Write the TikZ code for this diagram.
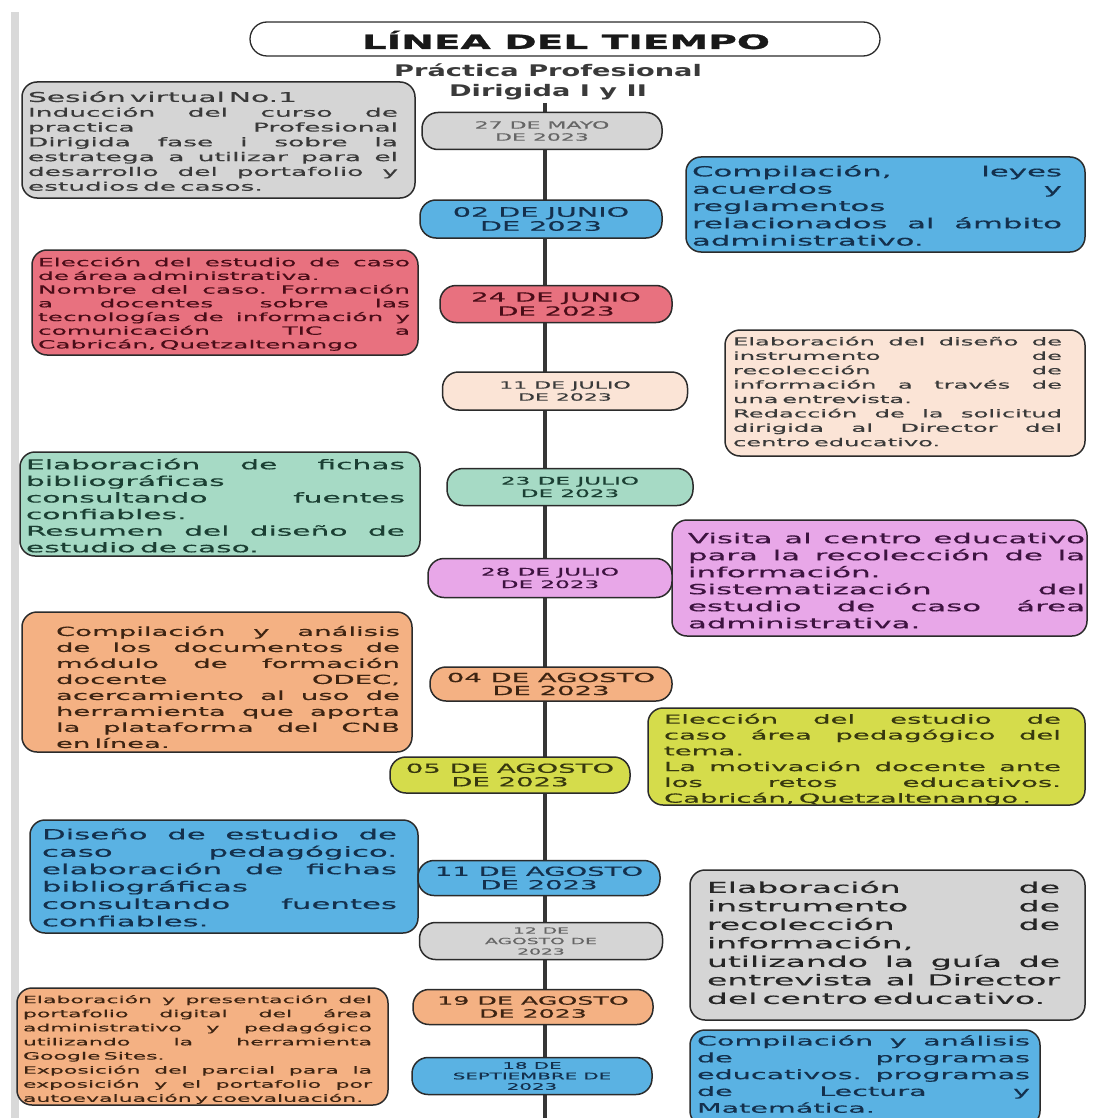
\documentclass[tikz,border=0pt]{standalone}
\usepackage{fontspec}
\newfontfamily\bodyf[FakeStretch=2.2,FakeBold=0.4]{DejaVu Sans}
\newfontfamily\titlef[FakeStretch=2.0,FakeBold=1.5]{DejaVu Sans}
\newfontfamily\subf[FakeStretch=1.7]{DejaVu Sans}
\definecolor{bord}{HTML}{2B2B2B}
\definecolor{tlc}{HTML}{363636}
\definecolor{stripc}{HTML}{D9D9D9}
\definecolor{cgray}{HTML}{D5D5D5}
\definecolor{cblue}{HTML}{5AB2E3}
\definecolor{cpink}{HTML}{E8717F}
\definecolor{cpeach}{HTML}{FBE4D6}
\definecolor{cmint}{HTML}{A6DAC5}
\definecolor{cviol}{HTML}{E8A7E8}
\definecolor{corange}{HTML}{F4B183}
\definecolor{cyell}{HTML}{D5DC4B}
\definecolor{tgray}{HTML}{3A3A3A}
\definecolor{tblue}{HTML}{14304D}
\definecolor{tpink}{HTML}{4A0D18}
\definecolor{tmint}{HTML}{1B3F33}
\definecolor{tviol}{HTML}{3D1340}
\definecolor{torange}{HTML}{3D2412}
\definecolor{tyell}{HTML}{37380F}
\newcommand\jl[1]{\hbox to\hsize{\frenchspacing\spaceskip=.28em plus 1fill minus .1em\relax #1}}
\newcommand\el[1]{\hbox to\hsize{\frenchspacing #1\hfil}}
\tikzset{
  tbox/.style={draw=bord, line width=1.5pt, rounded corners=15pt},
  ttext/.style={inner sep=0pt, align=left},
  dov/.style={draw=bord, line width=1.5pt, rounded corners=16pt, align=center, inner sep=0pt},
}
\begin{document}
\begin{tikzpicture}[x=1pt,y=-1pt]
\useasboundingbox (0,0) rectangle (1103,1118);
\fill[stripc] (11,12) rectangle (19,1118);
% timeline
\coordinate (tltop) at (545,103);
\coordinate (tlbot) at (545,1118);
\draw[line width=3.5pt, tlc] (tltop) -- (tlbot);
% title
\node[draw=bord, line width=1.3pt, rounded corners=17pt, fill=white, minimum width=630pt, minimum height=34pt] (title) at (565,39) {};
\node[inner sep=0pt, text=black!90, font=\titlef\bfseries\fontsize{19.5}{22}\selectfont] (titlet) at (566,40) {LÍNEA DEL TIEMPO};
\node[inner sep=0pt, text=tgray, font=\subf\bfseries\fontsize{16}{19}\selectfont] (sub1) at (548,70) {Práctica Profesional};
\node[inner sep=0pt, text=tgray, font=\subf\bfseries\fontsize{16}{19}\selectfont] (sub2) at (548,92) {Dirigida I y II};

% ---- left / right boxes ----
\node[tbox, fill=cgray, minimum width=393pt, minimum height=116pt] (L1) at (218.5,140) {};
\node[ttext, text width=370pt, text=tgray, font=\bodyf\fontsize{12}{14.8}\selectfont] (L1t) at (213,141) {%
\el{\fontsize{13.5}{16}\selectfont Sesión virtual No.1}
\jl{Inducción del curso de}
\jl{practica Profesional}
\jl{Dirigida fase i sobre la}
\jl{estratega a utilizar para el}
\jl{desarrollo del portafolio y}
\el{estudios de casos.}};

\node[tbox, fill=cblue, minimum width=399pt, minimum height=95pt] (R1) at (885.5,204.5) {};
\node[ttext, text width=370pt, text=tblue, font=\bodyf\fontsize{14}{17.3}\selectfont] (R1t) at (877,205.5) {%
\jl{Compilación, leyes}
\jl{acuerdos y}
\el{reglamentos}
\jl{relacionados al ámbito}
\el{administrativo.}};

\node[tbox, fill=cpink, minimum width=386pt, minimum height=105pt] (L2) at (225,302.5) {};
\node[ttext, text width=372pt, text=tpink, font=\bodyf\fontsize{11.3}{13.7}\selectfont] (L2t) at (224,304) {%
\jl{Elección del estudio de caso}
\el{de área administrativa.}
\jl{Nombre del caso. Formación}
\jl{a docentes sobre las}
\jl{tecnologías de información y}
\jl{comunicación TIC a}
\el{Cabricán, Quetzaltenango}};

\node[tbox, fill=cpeach, minimum width=360pt, minimum height=126pt] (R2) at (905,393) {};
\node[ttext, text width=329pt, text=tgray, font=\bodyf\fontsize{11}{14.4}\selectfont] (R2t) at (897.5,391.5) {%
\jl{Elaboración del diseño de}
\jl{instrumento de}
\jl{recolección de}
\jl{información a través de}
\el{una entrevista.}
\jl{Redacción de la solicitud}
\jl{dirigida al Director del}
\el{centro educativo.}};

\node[tbox, fill=cmint, minimum width=400pt, minimum height=104pt] (L3) at (220,504) {};
\node[ttext, text width=379pt, text=tmint, font=\bodyf\fontsize{13.5}{16.6}\selectfont] (L3t) at (215.5,505.5) {%
\jl{Elaboración de fichas}
\el{bibliográficas}
\jl{consultando fuentes}
\el{confiables.}
\jl{Resumen del diseño de}
\el{estudio de caso.}};

\node[tbox, fill=cviol, minimum width=415pt, minimum height=116pt] (R3) at (879.5,578) {};
\node[ttext, text width=397pt, text=tviol, font=\bodyf\fontsize{14}{17}\selectfont] (R3t) at (886.5,580.5) {%
\jl{Visita al centro educativo}
\jl{para la recolección de la}
\el{información.}
\jl{Sistematización del}
\jl{estudio de caso área}
\el{administrativa.}};

\node[tbox, fill=corange, minimum width=390pt, minimum height=140pt] (L4) at (217,682) {};
\node[ttext, text width=344pt, text=torange, font=\bodyf\fontsize{12.5}{16}\selectfont] (L4t) at (228,687) {%
\jl{Compilación y análisis}
\jl{de los documentos de}
\jl{módulo de formación}
\jl{docente ODEC,}
\jl{acercamiento al uso de}
\jl{herramienta que aporta}
\jl{la plataforma del CNB}
\el{en línea.}};

\node[tbox, fill=cyell, minimum width=437pt, minimum height=97pt] (R4) at (866.5,756.5) {};
\node[ttext, text width=397pt, text=tyell, font=\bodyf\fontsize{12.5}{15.8}\selectfont] (R4t) at (862.5,759.5) {%
\jl{Elección del estudio de}
\jl{caso área pedagógico del}
\el{tema.}
\jl{La motivación docente ante}
\jl{los retos educativos.}
\el{Cabricán, Quetzaltenango .}};

\node[tbox, fill=cblue, minimum width=388pt, minimum height=113pt] (L5) at (224,876.5) {};
\node[ttext, text width=355pt, text=tblue, font=\bodyf\fontsize{14}{17.4}\selectfont] (L5t) at (219.5,877.5) {%
\jl{Diseño de estudio de}
\jl{caso pedagógico.}
\jl{elaboración de fichas}
\el{bibliográficas}
\jl{consultando fuentes}
\el{confiables.}};

\node[tbox, fill=cgray, minimum width=395pt, minimum height=150pt] (R5) at (887.5,945) {};
\node[ttext, text width=353pt, text=black!85, font=\bodyf\fontsize{15}{18.5}\selectfont] (R5t) at (883.5,942.5) {%
\jl{Elaboración de}
\jl{instrumento de}
\jl{recolección de}
\el{información,}
\jl{utilizando la guía de}
\jl{entrevista al Director}
\el{del centro educativo.}};

\node[tbox, fill=corange, minimum width=371pt, minimum height=117pt] (L6) at (202.5,1046.5) {};
\node[ttext, text width=349pt, text=torange, font=\bodyf\fontsize{10}{14.1}\selectfont] (L6t) at (197.5,1049.5) {%
\jl{Elaboración y presentación del}
\jl{portafolio digital del área}
\jl{administrativo y pedagógico}
\jl{utilizando la herramienta}
\el{Google Sites.}
\jl{Exposición del parcial para la}
\jl{exposición y el portafolio por}
\el{autoevaluación y coevaluación.}};

\node[tbox, fill=cblue, minimum width=350pt, minimum height=96pt] (R6) at (865,1078) {};
\node[ttext, text width=333pt, text=tblue, font=\bodyf\fontsize{13}{16.8}\selectfont] (R6t) at (863.5,1074) {%
\jl{Compilación y análisis}
\jl{de programas}
\jl{educativos. programas}
\jl{de Lectura y}
\el{Matemática.}};

% ---- date ovals ----
\node[dov, fill=cgray, text=black!60, minimum width=240pt, minimum height=37pt, font=\bodyf\fontsize{10}{12}\selectfont] (O1) at (542,131) {27 DE MAYO\\DE 2023};
\node[dov, fill=cblue, text=tblue, minimum width=242pt, minimum height=38pt, font=\bodyf\fontsize{13}{14}\selectfont] (O2) at (541,219) {02 DE JUNIO\\DE 2023};
\node[dov, fill=cpink, text=tpink, minimum width=232pt, minimum height=37pt, font=\bodyf\fontsize{12.5}{14}\selectfont] (O3) at (556,304) {24 DE JUNIO\\DE 2023};
\node[dov, fill=cpeach, text=tgray, minimum width=245pt, minimum height=38pt, font=\bodyf\fontsize{10}{12}\selectfont] (O4) at (565,391) {11 DE JULIO\\DE 2023};
\node[dov, fill=cmint, text=tmint, minimum width=246pt, minimum height=37pt, font=\bodyf\fontsize{10.5}{12.5}\selectfont] (O5) at (570,487) {23 DE JULIO\\DE 2023};
\node[dov, fill=cviol, text=tviol, minimum width=244pt, minimum height=39pt, font=\bodyf\fontsize{10.5}{12.5}\selectfont] (O6) at (550,578) {28 DE JULIO\\DE 2023};
\node[dov, fill=corange, text=torange, minimum width=242pt, minimum height=34pt, font=\bodyf\fontsize{12.5}{13}\selectfont] (O7) at (551,684) {04 DE AGOSTO\\DE 2023};
\node[dov, fill=cyell, text=tyell, minimum width=240pt, minimum height=36pt, font=\bodyf\fontsize{12.5}{13.5}\selectfont] (O8) at (510,775) {05 DE AGOSTO\\DE 2023};
\node[dov, fill=cblue, text=tblue, minimum width=242pt, minimum height=35pt, font=\bodyf\fontsize{12.5}{13.5}\selectfont] (O9) at (539,878) {11 DE AGOSTO\\DE 2023};
\node[dov, fill=cgray, text=black!60, minimum width=243pt, minimum height=37pt, font=\bodyf\fontsize{8.5}{10.5}\selectfont] (O10) at (541,941) {12 DE\\AGOSTO DE\\2023};
\node[dov, fill=corange, text=torange, minimum width=240pt, minimum height=35pt, font=\bodyf\fontsize{11.5}{13}\selectfont] (O11) at (533,1007) {19 DE AGOSTO\\DE 2023};
\node[dov, fill=cblue, text=tblue, minimum width=240pt, minimum height=37pt, font=\bodyf\fontsize{9}{10.5}\selectfont] (O12) at (532,1076) {18 DE\\SEPTIEMBRE DE\\2023};
\end{tikzpicture}
\end{document}
